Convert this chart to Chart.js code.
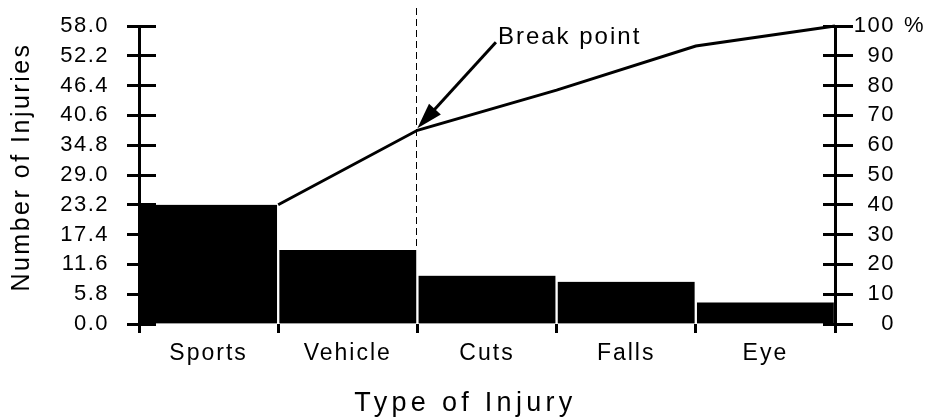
<!DOCTYPE html>
<html><head><meta charset="utf-8">
<script src="https://cdn.jsdelivr.net/npm/chart.js@4/dist/chart.umd.min.js"></script>
<style>html,body{margin:0;padding:0;background:#fff;}canvas{display:block}</style>
</head><body>
<canvas id="c" width="931" height="420" style="width:931px;height:420px"></canvas>
<script>
// ---- data ----
const categories = ['Sports', 'Vehicle', 'Cuts', 'Falls', 'Eye'];
const injuries = [23.2, 14.4, 9.4, 8.2, 4.2];
const cumulativePercent = [40, 65, 78.5, 93.3, 100];
const leftTicks = [0, 5.8, 11.6, 17.4, 23.2, 29.0, 34.8, 40.6, 46.4, 52.2, 58.0];
const rightTicks = [0, 10, 20, 30, 40, 50, 60, 70, 80, 90, 100];
const breakIndex = 1;
const breakLabel = 'Break point';
const yTitle = 'Number of Injuries';
const xTitle = 'Type of Injury';

const FAMILY = '"Liberation Sans", Arial, Helvetica, sans-serif';
const SPACING = {22: 1.5, 23: 2, 24: 2, 25: 2.5, 27: 4.3};

const canvas = document.getElementById('c');
const ctx0 = canvas.getContext('2d');
(function installSpacing(ctx) {
  const d = Object.getOwnPropertyDescriptor(CanvasRenderingContext2D.prototype, 'font');
  Object.defineProperty(ctx, 'font', {
    configurable: true,
    get() { return d.get.call(this); },
    set(v) {
      d.set.call(this, v);
      const m = /(\d+(?:\.\d+)?)px/.exec(v);
      const s = m ? (SPACING[Math.round(parseFloat(m[1]))] || 0) : 0;
      if ('letterSpacing' in this) this.letterSpacing = s + 'px';
    }
  });
})(ctx0);

function align(p, w) { const h = w / 2; return Math.round(p - h) + h; }

const overlay = {
  id: 'overlay',
  afterDraw(chart) {
    const {ctx, scales} = chart;
    const yL = scales.y, yR = scales.yR, xL = scales.xLin;
    ctx.save();
    ctx.strokeStyle = '#000';
    ctx.fillStyle = '#000';
    ctx.lineWidth = 3;
    // inner parts of the axis tick marks
    yL.ticks.forEach(t => {
      const p = align(yL.getPixelForValue(t.value), 3);
      ctx.beginPath(); ctx.moveTo(yL.right, p); ctx.lineTo(yL.right + 17, p); ctx.stroke();
    });
    yR.ticks.forEach(t => {
      const p = align(yR.getPixelForValue(t.value), 3);
      ctx.beginPath(); ctx.moveTo(yR.left - 12, p); ctx.lineTo(yR.left, p); ctx.stroke();
    });
    // percent sign after the top right label
    ctx.font = 'normal 22px ' + FAMILY;
    ctx.textAlign = 'left'; ctx.textBaseline = 'middle';
    ctx.fillText('%', yR.right + 9, yR.getPixelForValue(rightTicks[rightTicks.length - 1]));

    // dashed break line
    const bx = xL.getPixelForValue(breakIndex + 1) - 1.5;
    const by = yR.getPixelForValue(cumulativePercent[breakIndex]);
    ctx.save();
    ctx.lineWidth = 1;
    ctx.setLineDash([7, 4]);
    ctx.beginPath();
    ctx.moveTo(Math.round(bx) + 0.5, 8);
    ctx.lineTo(Math.round(bx) + 0.5, yL.getPixelForValue(injuries[breakIndex]));
    ctx.stroke();
    ctx.restore();

    // arrow
    const tipX = bx + 1.5, tipY = by - 2;
    const tailX = bx + 80, tailY = by - 88;
    const dx = tipX - tailX, dy = tipY - tailY, len = Math.hypot(dx, dy);
    const ux = dx / len, uy = dy / len;
    const hl = 26, hw = 8;
    const baseX = tipX - ux * hl, baseY = tipY - uy * hl;
    ctx.lineWidth = 3;
    ctx.beginPath(); ctx.moveTo(tailX, tailY); ctx.lineTo(baseX + ux * 4, baseY + uy * 4); ctx.stroke();
    ctx.beginPath();
    ctx.moveTo(tipX, tipY);
    ctx.lineTo(baseX - uy * hw, baseY + ux * hw);
    ctx.lineTo(baseX + uy * hw, baseY - ux * hw);
    ctx.closePath(); ctx.fill();

    ctx.font = 'normal 24px ' + FAMILY;
    ctx.textAlign = 'left'; ctx.textBaseline = 'alphabetic';
    ctx.fillText(breakLabel, bx + 82, by - 86);

    // x axis title
    ctx.font = 'normal 27px ' + FAMILY;
    ctx.textAlign = 'center'; ctx.textBaseline = 'alphabetic';
    ctx.fillText(xTitle, chart.width / 2, 411);

    // y axis title
    ctx.save();
    ctx.translate(22, (chart.chartArea.top + chart.chartArea.bottom) / 2 - 8);
    ctx.rotate(-Math.PI / 2);
    ctx.font = 'normal 25px ' + FAMILY;
    ctx.textAlign = 'center'; ctx.textBaseline = 'middle';
    ctx.fillText(yTitle, 0, 0);
    ctx.restore();
    ctx.restore();
  }
};

new Chart(ctx0, {
  type: 'bar',
  data: {
    labels: categories,
    datasets: [
      {
        type: 'line',
        data: cumulativePercent.map((v, i) => ({x: i + 1, y: v})),
        xAxisID: 'xLin', yAxisID: 'yR',
        borderColor: '#000', borderWidth: 3, pointRadius: 0, fill: false,
        tension: 0, clip: false, order: 0
      },
      {
        type: 'bar',
        data: injuries,
        xAxisID: 'x', yAxisID: 'y',
        backgroundColor: '#000', borderColor: '#fff',
        borderWidth: {left: 1.5, right: 1.5, top: 0, bottom: 0},
        borderSkipped: false, grouped: false,
        barPercentage: 1, categoryPercentage: 1, order: 1
      }
    ]
  },
  options: {
    responsive: false, animation: false, devicePixelRatio: 1,
    layout: {padding: {top: 26, right: 36, left: 0, bottom: 0}},
    plugins: {legend: {display: false}, tooltip: {enabled: false}},
    scales: {
      x: {
        type: 'category', position: 'bottom', offset: true,
        grid: {display: true, offset: true, drawOnChartArea: false, drawTicks: true,
               tickLength: 9, tickWidth: 3, tickColor: '#000', color: '#000'},
        border: {display: false},
        ticks: {color: '#000', font: {family: FAMILY, size: 23}, padding: 7,
                maxRotation: 0, autoSkip: false},
        afterFit(s) { s.height = 96; s.paddingLeft = 0; s.paddingRight = 0; }
      },
      xLin: {type: 'linear', min: 0, max: 5, display: false, offset: false},
      y: {
        type: 'linear', position: 'left', min: 0, max: 58,
        afterBuildTicks(s) { s.ticks = leftTicks.map(v => ({value: v})); },
        ticks: {color: '#000', font: {family: FAMILY, size: 22}, padding: 18, autoSkip: false,
                callback: (v) => Number(v).toFixed(1)},
        grid: {display: true, drawOnChartArea: false, tickLength: 12, tickWidth: 3, tickColor: '#000'},
        border: {display: true, color: '#000', width: 3, z: 1},
        title: {display: false},
        afterFit(s) { s.width = 139; s.paddingTop = 0; s.paddingBottom = 0; }
      },
      yR: {
        type: 'linear', position: 'right', min: 0, max: 100,
        afterBuildTicks(s) { s.ticks = rightTicks.map(v => ({value: v})); },
        ticks: {color: '#000', font: {family: FAMILY, size: 22}, padding: 4, autoSkip: false,
                crossAlign: 'far', callback: (v) => String(v)},
        grid: {display: true, drawOnChartArea: false, tickLength: 18, tickWidth: 3, tickColor: '#000'},
        border: {display: true, color: '#000', width: 3, z: 1},
        afterFit(s) { s.width = 60; s.paddingTop = 0; s.paddingBottom = 0; }
      }
    }
  },
  plugins: [overlay]
});
</script>
</body></html>
